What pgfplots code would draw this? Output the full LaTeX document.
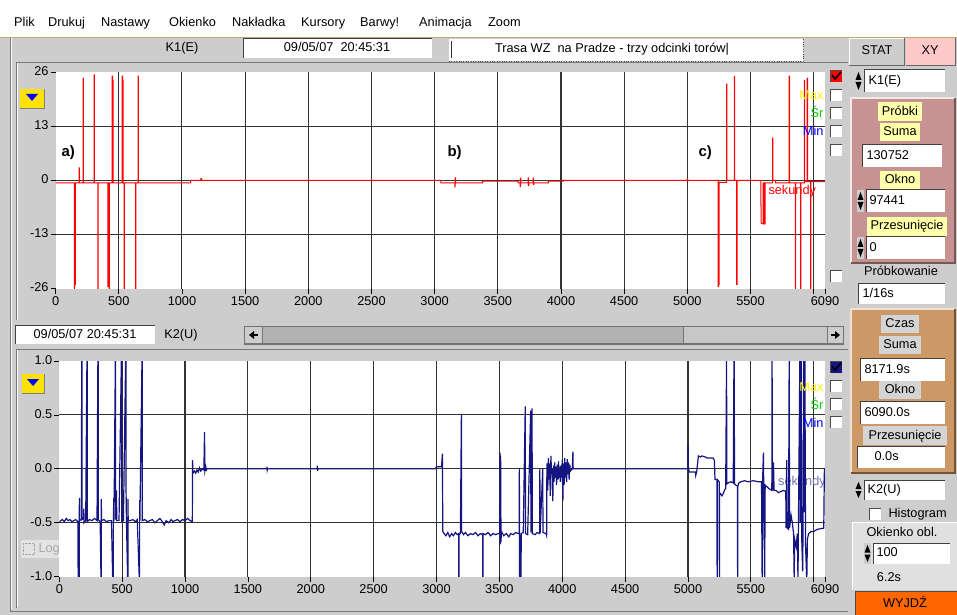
\documentclass[border=0pt]{standalone}
\usepackage{pgfplots}
\usepackage{pgfplotstable}
\pgfplotsset{compat=1.18}
\usepackage{fontspec}
\setmainfont{Liberation Sans}
\definecolor{uigrey}{RGB}{205,205,205}
\definecolor{uidark}{RGB}{120,120,120}
\definecolor{rose}{RGB}{198,146,146}
\definecolor{tan}{RGB}{204,152,102}
\definecolor{lbl}{RGB}{255,255,170}
\definecolor{navy}{RGB}{20,20,130}
\definecolor{xypink}{RGB}{255,200,200}
\definecolor{orng}{RGB}{255,102,0}
\definecolor{menuline}{RGB}{190,170,110}
\definecolor{srgreen}{RGB}{0,210,0}
\newcommand{\ui}{\fontsize{12.8}{14}\selectfont}
\newcommand{\wbox}[4]{\fill[white] (#1,-#2) rectangle (#3,-#4); \draw[black!75,line width=1bp] (#1,-#4) -- (#1,-#2) -- (#3,-#2);}
\newcommand{\spinner}[3]{%
 \fill[uigrey] (#1,-#2) rectangle ({#1+7},-#3);
 \fill[black] ({#1+0.5},{-(#2+#3)/2+1}) -- ({#1+6.5},{-(#2+#3)/2+1}) -- ({#1+3.5},{-#2-2}) -- cycle;
 \fill[black] ({#1+0.5},{-(#2+#3)/2-1}) -- ({#1+6.5},{-(#2+#3)/2-1}) -- ({#1+3.5},{-#3+2}) -- cycle;}
\newcommand{\cbox}[2]{\fill[white] (#1,-#2) rectangle ({#1+12},{-#2-12}); \draw[black!70] (#1,{-#2-12}) -- (#1,-#2) -- ({#1+12},-#2);}
\pgfplotsset{uiaxis/.style={
  scale only axis, anchor=south west,
  axis background/.style={fill=white},
  axis line style={draw=none},
  tick align=outside, xtick pos=lower, ytick pos=left,
  major tick length=5bp,
  every tick/.style={black, line width=0.8bp},
  grid=major, major grid style={black!80, line width=1.1bp},
  ticklabel style={font=\ui, black},
  xtick={500,1000,1500,2000,2500,3000,3500,4000,4500,5000,5500,6000},
  xticklabels={500,1000,1500,2000,2500,3000,3500,4000,4500,5000,5500,{}},
  extra x ticks={0,6090}, extra x tick labels={0,6090},
  extra x tick style={grid=none},
  extra y tick style={grid=none},
  xmin=0, xmax=6090, clip=true,
  xticklabel style={yshift=1bp}, yticklabel style={xshift=1.5bp}
}}
\pgfplotstableread{
x y
0 -0.6
148 -0.6
148 -26.5
151 -26.5
151 -25
157 -25
157 -0.6
186 -0.6
186 3
188 3
188 -0.6
217 -0.6
217 24.5
220 24.5
220 -0.6
305 -0.6
305 25.3
307 25.3
307 -0.6
334 -0.6
334 -26.5
336 -26.5
336 -0.6
414 -0.6
414 -25.5
418 -25.5
418 -0.6
423 -0.6
423 -26
426 -26
426 -0.6
448 -0.6
448 25
451 25
451 24
455 24
455 -0.6
527 -0.6
527 25
530 25
530 24
534 24
534 -0.6
543 -0.6
543 -26.5
545 -26.5
545 -0.6
633 -0.6
633 -26.5
635 -26.5
635 -0.6
653 -0.6
653 25
655 25
655 -0.6
1069 -0.6
1069 0
1150 0
1150 0.4
1155 0.4
1155 0
3050 0
3050 -0.6
3160 -0.6
3160 -1.6
3163 -1.6
3163 0.6
3166 0.6
3166 -0.6
3380 -0.6
3380 -0.2
3660 -0.2
3660 -0.6
3676 -0.6
3676 -1.5
3679 -1.5
3679 0.5
3682 0.5
3682 -0.6
3740 -0.6
3740 0.6
3743 0.6
3743 -1.2
3746 -1.2
3746 -0.6
3780 -0.6
3780 0.5
3783 0.5
3783 -1.0
3786 -1.0
3786 -0.6
3900 -0.6
3900 -0.2
4020 -0.2
4020 0
5000 0
5000 0.4
5003 0.4
5003 0
5243 0
5243 -25.5
5247 -25.5
5247 -25
5251 -25
5251 -0.5
5311 -0.5
5311 23.1
5313 23.1
5313 0
5372 0
5372 24.9
5374 24.9
5374 0
5391 0
5391 -25
5394 -25
5394 0
5583 0
5583 -6
5585 -6
5585 -10.3
5600 -10.5
5600 -0.6
5610 -0.6
5610 -10.5
5616 -10.5
5616 -0.6
5676 -0.6
5676 10.1
5678 10.1
5678 0
5700 0
5700 -0.6
5806 -0.6
5806 25
5810 25
5810 -0.6
5855 -0.6
5855 -26
5857 -26
5857 -0.6
5897 -0.6
5897 -26
5899 -26
5899 -0.6
5926 -0.6
5926 24
5928 24
5928 -0.3
5948 -0.3
5948 24.5
5953 24.5
5953 -0.3
5977 -0.3
5977 -26
5979 -26
5979 -0.3
6090 -0.3
}\topdata
\pgfplotstableread{
x y
0 -0.50
10 -0.48
25 -0.47
40 -0.49
55 -0.46
70 -0.48
85 -0.47
100 -0.49
115 -0.48
130 -0.47
148 -0.49
150 -1.05
153 -1.05
153 -0.5
156 -1.05
158 -1.05
158 -0.5
160 -0.27
162 -0.48
176 -0.47
178 1.05
180 1.05
180 -0.47
193 -0.46
195 -0.37
197 -0.50
210 -0.48
220 1.05
222 1.05
222 -0.49
240 -0.47
260 -0.48
280 -0.46
300 -0.48
307 1.05
309 1.05
309 -0.47
325 -0.49
332 -1.05
334 -1.05
334 -0.28
336 -0.48
355 -0.47
375 -0.49
395 -0.48
415 -0.48
425 -1.05
430 -1.05
430 -0.50
433 -0.27
435 -0.48
446 1.05
448 1.05
448 -0.47
455 -0.20
457 -0.48
475 -0.48
494 1.05
496 1.05
496 -0.49
510 -0.48
528 1.05
530 1.05
531 -0.20
534 -0.48
544 -1.05
546 -1.05
546 -0.28
548 -0.48
565 -0.48
585 -0.47
605 -0.49
620 -0.47
637 -1.05
639 -1.05
639 -0.29
641 -0.48
658 1.05
660 1.05
660 -0.48
680 -0.47
700 -0.49
720 -0.48
740 -0.47
760 -0.50
780 -0.48
800 -0.46
820 -0.49
835 -0.52
850 -0.48
870 -0.50
890 -0.47
905 -0.49
920 -0.48
940 -0.47
960 -0.49
980 -0.47
1000 -0.48
1020 -0.46
1040 -0.48
1055 -0.49
1058 -0.49
1060 0.08
1063 -0.04
1075 -0.02
1085 -0.04
1095 -0.01
1105 -0.03
1115 0.01
1125 -0.02
1140 0.00
1150 -0.01
1155 0.34
1158 -0.02
1165 0.02
1170 -0.01
1175 0
1650 0
1652 0.02
1654 -0.01
1656 0
2050 0
2052 0.03
2054 -0.02
2056 0
2990 0
3000 0.02
3040 0.02
3047 0.14
3050 -0.58
3060 -0.60
3075 -0.62
3090 -0.59
3105 -0.63
3120 -0.60
3135 -0.62
3150 -0.59
3165 -0.61
3177 -0.60
3177 -1.05
3179 -1.05
3179 -0.61
3190 -0.60
3198 0.51
3200 -0.58
3215 -0.61
3230 -0.59
3250 -0.62
3270 -0.60
3290 -0.61
3310 -0.59
3330 -0.62
3350 -0.60
3368 -0.61
3368 -1.05
3370 -1.05
3370 -0.60
3390 -0.61
3410 -0.59
3430 -0.62
3450 -0.60
3470 -0.61
3490 -0.60
3503 -0.60
3505 0.15
3507 -0.70
3510 0.12
3513 -0.68
3516 -0.58
3535 -0.62
3555 -0.60
3575 -0.63
3590 -0.60
3610 -0.61
3630 -0.59
3650 -0.60
3657 -0.60
3659 0.00
3661 -1.05
3663 -0.61
3672 -1.05
3674 -0.60
3690 -0.59
3706 0.58
3708 -0.60
3725 -0.61
3749 0.54
3751 -0.59
3760 0.56
3762 -0.60
3785 -0.61
3800 -0.59
3820 -0.60
3822 0.0
3824 -0.60
3845 0.0
3847 -0.59
3870 -0.60
3876 -0.62
3878 0.05
3885 -0.2
3890 0.1
3895 -0.1
3900 0.05
3905 -0.25
3910 0.12
3915 -0.05
3920 0.0
3925 -0.3
3930 0.03
3935 -0.12
3940 0.06
3945 -0.08
3950 0.02
3955 -0.15
3960 0.04
3965 -0.1
3970 0.07
3975 -0.05
3980 -0.02
3985 -0.12
3990 0.03
3995 -0.08
4000 0.08
4005 -0.3
4010 0.05
4015 -0.15
4020 0.1
4025 -0.08
4030 0.06
4035 -0.12
4040 0.09
4045 -0.05
4050 0.06
4055 -0.1
4060 0.04
4065 -0.02
4080 0.0
4085 0.16
4087 0.0
5000 0.0
5001 0.23
5003 0.02
5010 -0.03
5060 -0.03
5062 -0.06
5070 -0.02
5083 0.12
5100 0.11
5110 0.12
5140 0.11
5150 0.10
5200 0.10
5210 0.08
5215 -0.10
5230 -0.10
5232 -1.05
5234 -0.10
5248 -0.12
5250 -1.05
5252 -0.22
5270 -0.25
5280 -0.23
5290 -0.20
5300 -0.18
5307 1.05
5309 -0.14
5320 -0.13
5340 -0.12
5360 -0.13
5366 1.05
5368 1.05
5370 -0.14
5393 -0.16
5395 -1.05
5397 -0.16
5405 -0.13
5420 -0.12
5450 -0.11
5480 -0.12
5520 -0.11
5560 -0.12
5585 -0.12
5590 -1.05
5595 -0.05
5600 0.15
5603 -0.20
5610 -1.05
5614 -0.15
5640 -0.18
5667 -0.20
5669 1.05
5672 -0.20
5680 0.06
5685 -0.20
5700 -0.20
5720 -0.22
5760 -0.20
5778 -0.21
5780 -0.55
5785 0.08
5790 -0.55
5800 -0.56
5805 1.05
5808 -0.55
5820 -0.43
5830 -0.50
5840 -0.60
5845 -1.05
5848 -0.65
5860 -0.72
5870 -0.60
5875 -1.05
5878 -0.60
5890 1.05
5893 -0.50
5900 1.05
5905 -0.65
5912 -0.95
5915 -0.62
5920 1.05
5923 -0.40
5930 1.05
5935 -0.70
5945 -1.05
5950 -0.65
5960 -0.60
5980 -0.58
6000 -0.58
6030 -0.56
6080 -0.55
6085 0.0
6090 0.0
}\botdata
\begin{document}
\begin{tikzpicture}[x=1bp,y=1bp,every node/.append style={text height=9.2bp,text depth=2.6bp}]
\path[use as bounding box] (0,0) rectangle (957,-615);
% ---------- window background ----------
\fill[white] (0,0) rectangle (957,-37);
\fill[uigrey] (0,-37) rectangle (957,-615);
\draw[menuline,line width=1.2bp] (0,-37.5) -- (957,-37.5);
\draw[uidark,line width=1bp] (10,-38) -- (10,-611) -- (848,-611);
\draw[white,line width=1bp] (11.5,-38) -- (11.5,-609);
% menu
\foreach \t/\xx in {Plik/14,Drukuj/48,Nastawy/101,Okienko/169,Nakładka/232,Kursory/301,Barwy!/360,Animacja/419,Zoom/488}
  \node[anchor=base west,inner sep=0,font=\ui] at (\xx,-26.5) {\t};
% header row
\node[font=\ui] at (182,-48) {K1(E)};
\wbox{243}{39}{432}{58}
\node[font=\ui] at (337,-48.5) {09/05/07\ \ 20:45:31};
\fill[white] (449,-39) rectangle (803,-61);
\draw[black!70,dotted] (449,-61) -- (803,-61) -- (803,-39);
\draw[black!80,line width=1bp] (451,-41) -- (451,-58);
\node[font=\ui] at (612,-49) {Trasa WZ\ \ na Pradze - trzy odcinki torów|};
% top panel inset
\draw[uidark] (16,-320) -- (16,-62) -- (848,-62);
\draw[white] (17,-320) -- (17,-63);
% middle row
\wbox{15}{325}{155}{344}
\node[font=\ui] at (85,-335) {09/05/07 20:45:31};
\node[font=\ui] at (181,-335) {K2(U)};
\fill[black!55] (244,-326) rectangle (844,-345);
\fill[uigrey] (245,-327) rectangle (262,-343);
\fill[black] (249,-335) -- (254,-331) -- (254,-339) -- cycle;
\fill[black] (254,-334) rectangle (258,-336);
\fill[black!30] (263,-327) rectangle (683,-343);
\fill[black!22] (684,-327) rectangle (827,-343);
\fill[uigrey] (828,-327) rectangle (843,-343);
\fill[black] (840,-335) -- (835,-331) -- (835,-339) -- cycle;
\fill[black] (831,-334) rectangle (835,-336);
% bottom panel inset
\draw[uidark] (16,-608) -- (16,-349) -- (848,-349);
\draw[white] (17,-607) -- (17,-350);
% ---------- right panel ----------
\fill[uigrey] (849,-38) rectangle (904,-65);
\draw[black!60] (849,-65) -- (904,-65) -- (904,-38);
\draw[white] (849,-65) -- (849,-38) -- (904,-38);
\node[font=\ui] at (877,-51) {STAT};
\fill[xypink] (906,-38) rectangle (955,-65);
\draw[black!60] (906,-65) -- (955,-65) -- (955,-38);
\node[font=\ui] at (930,-51) {XY};
\spinner{855}{70}{92}
\wbox{864}{70}{945}{92}
\node[font=\ui,anchor=west] at (865,-81) {K1(E)};
% rose panel
\fill[rose] (851,-98) rectangle (955,-263);
\draw[white!80!rose,line width=1.2bp] (851,-263) -- (851,-98) -- (955,-98);
\draw[rose!60!black,line width=1.2bp] (851,-263) -- (955,-263) -- (955,-98);
\fill[lbl] (878,-102) rectangle (922,-121); \node[font=\ui] at (900,-112) {Próbki};
\fill[lbl] (880,-123) rectangle (920,-141); \node[font=\ui] at (900,-132) {Suma};
\wbox{862}{145}{942}{167}
\node[font=\ui,anchor=west] at (863,-156.5) {130752};
\fill[lbl] (880,-171) rectangle (920,-189); \node[font=\ui] at (900,-180) {Okno};
\spinner{857}{190}{212}
\wbox{866}{190}{945}{212}
\node[font=\ui,anchor=west] at (866,-201.5) {97441};
\fill[lbl] (867,-217) rectangle (947,-236); \node[font=\ui] at (907,-226.5) {Przesunięcie};
\spinner{857}{237}{259}
\wbox{866}{237}{945}{259}
\node[font=\ui,anchor=west] at (866,-248.5) {0};
\node[font=\ui] at (901,-272) {Próbkowanie};
\wbox{858}{283}{945}{304}
\node[font=\ui,anchor=west] at (859,-294) {1/16s};
% tan panel
\fill[tan] (851,-309) rectangle (955,-473);
\draw[white!70!tan,line width=1.2bp] (851,-473) -- (851,-309) -- (955,-309);
\draw[tan!55!black,line width=1.2bp] (851,-473) -- (955,-473) -- (955,-309);
\fill[black!17] (881,-315) rectangle (919,-333); \node[font=\ui] at (900,-324) {Czas};
\fill[black!17] (879,-336) rectangle (921,-354); \node[font=\ui] at (900,-345) {Suma};
\wbox{860}{358}{945}{381}
\node[font=\ui,anchor=west] at (861,-370) {8171.9s};
\fill[black!17] (879,-381) rectangle (921,-399); \node[font=\ui] at (900,-390) {Okno};
\wbox{860}{401}{945}{424}
\node[font=\ui,anchor=west] at (861,-413) {6090.0s};
\fill[black!17] (863,-426) rectangle (947,-445); \node[font=\ui] at (905,-436) {Przesunięcie};
\wbox{857}{446}{945}{468}
\node[font=\ui,anchor=west] at (871,-457.5) {0.0s};
\spinner{855}{480}{500}
\wbox{864}{480}{945}{500}
\node[font=\ui,anchor=west] at (864,-490) {K2(U)};
\cbox{869}{508}
\node[font=\ui,anchor=west] at (885,-514) {Histogram};
\fill[black!12] (852,-522) rectangle (957,-590);
\draw[white] (852,-590) -- (852,-522) -- (957,-522);
\node[font=\ui] at (902,-533) {Okienko obl.};
\spinner{864}{543}{564}
\wbox{873}{543}{950}{564}
\node[font=\ui,anchor=west] at (873,-553.5) {100};
\node[font=\ui] at (889,-578) {6.2s};
\fill[orng] (855,-591) rectangle (957,-615);
\draw[black!70] (855,-615) -- (855,-591) -- (957,-591);
\node[font=\ui] at (905,-604) {WYJDŹ};
% ---------- top plot ----------
\begin{axis}[uiaxis, at={(55.6bp,-288.5bp)}, width=769.4bp, height=216.5bp,
  ymin=-26, ymax=26,
  ytick={-13,0,13}, yticklabels={-13,0,13},
  extra y ticks={-26,26}, extra y tick labels={-26,26}]
\addplot[red, line width=1bp, line join=miter] table[x=x,y=y] {\topdata};
\end{axis}
\node[anchor=west,font=\ui,text=red] at (765,-191) {sekundy};
\node[anchor=west,font=\bfseries\fontsize{15}{17}\selectfont] at (58,-153) {a)};
\node[anchor=west,font=\bfseries\fontsize{15}{17}\selectfont] at (444,-153) {b)};
\node[anchor=west,font=\bfseries\fontsize{15}{17}\selectfont] at (695,-153) {c)};
% yellow button top
\fill[yellow!85!orange] (20,-89) rectangle (44,-108);
\draw[black!50] (20,-108) -- (44,-108) -- (44,-89);
\fill[blue] (26,-94) -- (38,-94) -- (32,-101) -- cycle;
% checkboxes top
\fill[red] (830,-70) rectangle (842,-82);
\draw[black!70] (830,-82) -- (830,-70) -- (842,-70);
\draw[black,line width=1.6bp] (832,-75) -- (835,-79) -- (841,-72);
\cbox{830}{89}\cbox{830}{107}\cbox{830}{125}\cbox{830}{144}\cbox{830}{270}
\node[anchor=east,font=\ui,text=yellow] at (827,-96) {Max};
\node[anchor=east,font=\ui,text=srgreen] at (827,-114) {Śr};
\node[anchor=east,font=\ui,text=blue] at (827,-132) {Min};
\node[anchor=east,font=\ui,text=white] at (827,-151) {E};
% ---------- bottom plot ----------
\begin{axis}[uiaxis, at={(59.3bp,-576.7bp)}, width=765.7bp, height=215.7bp,
  ymin=-1, ymax=1,
  ytick={-0.5,0,0.5}, yticklabels={-0.5,0.0,0.5},
  extra y ticks={-1,1}, extra y tick labels={-1.0,1.0}]
\node[anchor=west,font=\ui,text=navy!60!white] at (axis cs:5690,-0.12) {sekundy};
\addplot[navy, line width=1.2bp, line join=miter] table[x=x,y=y] {\botdata};
\end{axis}
\fill[yellow!85!orange] (22,-374) rectangle (44,-393);
\draw[black!50] (22,-393) -- (44,-393) -- (44,-374);
\fill[blue] (27,-379) -- (39,-379) -- (33,-386) -- cycle;
\fill[white,opacity=0.45] (21,-540) rectangle (63,-558);
\draw[black!35,densely dotted] (23,-543) rectangle (34,-554);
\node[anchor=west,font=\ui,text=black!35] at (35,-549) {Log};
\fill[navy] (830,-361) rectangle (842,-373);
\draw[black!70] (830,-373) -- (830,-361) -- (842,-361);
\draw[black,line width=1.6bp] (832,-366) -- (835,-370) -- (841,-363);
\cbox{830}{380}\cbox{830}{398}\cbox{830}{416}
\node[anchor=east,font=\ui,text=yellow] at (827,-388) {Max};
\node[anchor=east,font=\ui,text=srgreen] at (827,-406) {Śr};
\node[anchor=east,font=\ui,text=blue] at (827,-424) {Min};
\end{tikzpicture}
\end{document}
